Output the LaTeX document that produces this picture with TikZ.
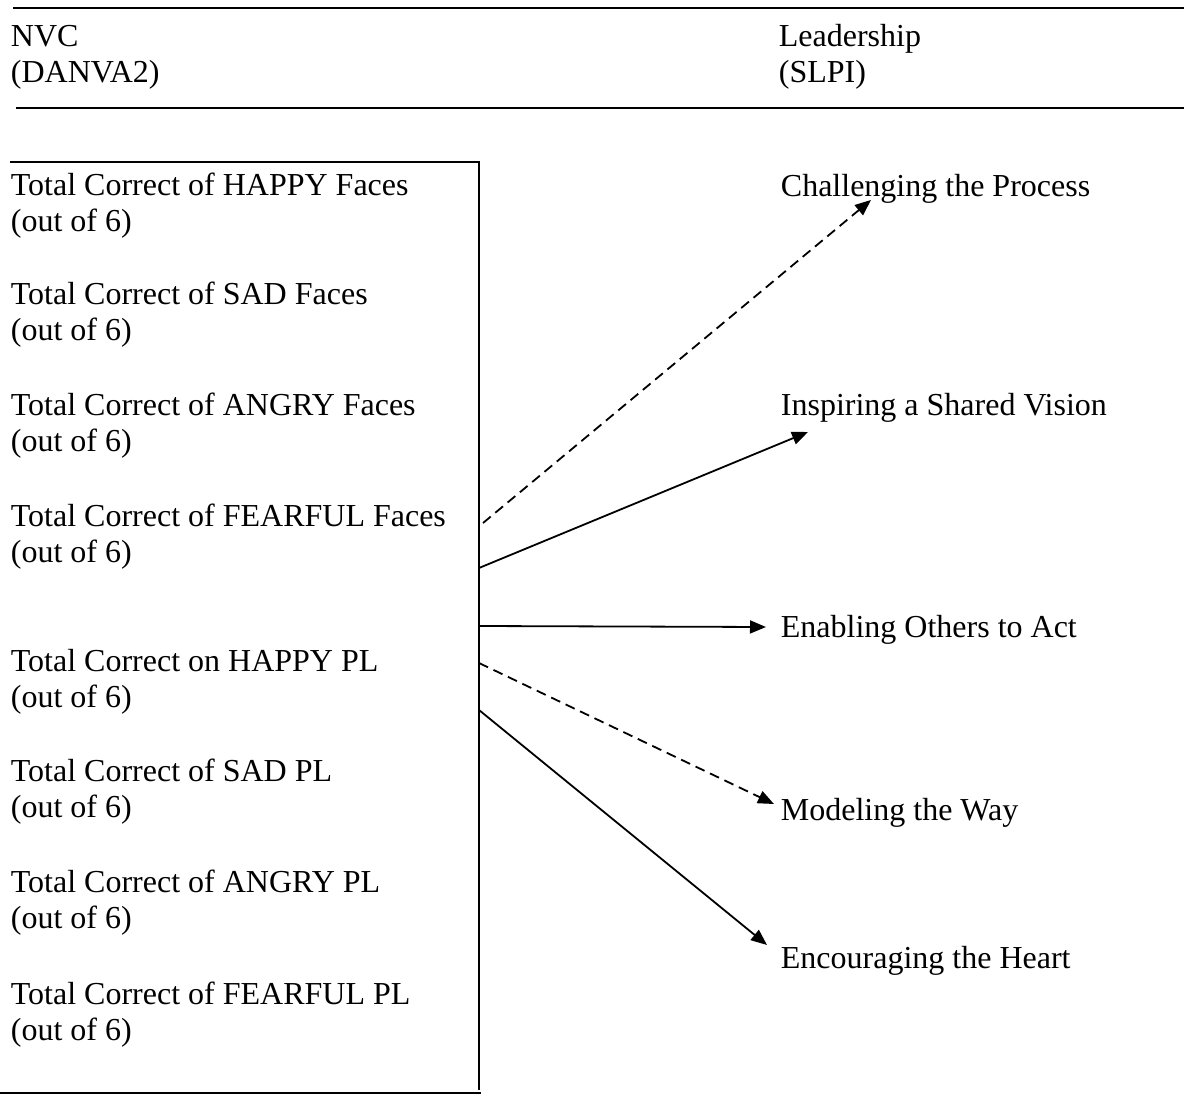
\documentclass[tikz,border=0pt]{standalone}
\usepackage{fontspec}
\setmainfont{Liberation Serif}
\usetikzlibrary{arrows.meta}

\begin{document}
\begin{tikzpicture}[x=1pt,y=-1pt,line width=1.8pt,
    lbl/.style={anchor=base west,inner sep=0pt,align=left,font=\fontsize{32}{36}\selectfont},
    conn/.style={-{Triangle[length=16pt,width=13pt]}},
    weak/.style={conn,dash pattern=on 10pt off 6pt}]
  \useasboundingbox (0,0) rectangle (1184,1099);
  % header (base = last line)
  \draw (13,8) -- (1184,8);
  \draw (16,108) -- (1184,108);
  \node[lbl] (nvc) at (10,83) {NVC\\(DANVA2)};
  \node[lbl] (lead) at (778,83) {Leadership\\(SLPI)};
  % box of DANVA2 scores
  \draw (10,162) -- (479,162) -- (479,1090);
  \draw (0,1093) -- (481,1093);
  \node[lbl] (hapF) at (10,232) {Total Correct of HAPPY Faces\\(out of 6)};
  \node[lbl] (sadF) at (10,341) {Total Correct of SAD Faces\\(out of 6)};
  \node[lbl] (angF) at (10,451) {Total Correct of ANGRY Faces\\(out of 6)};
  \node[lbl] (feaF) at (10,562) {Total Correct of FEARFUL Faces\\(out of 6)};
  \node[lbl] (hapP) at (10,707) {Total Correct on HAPPY PL\\(out of 6)};
  \node[lbl] (sadP) at (10,817) {Total Correct of SAD PL\\(out of 6)};
  \node[lbl] (angP) at (10,928) {Total Correct of ANGRY PL\\(out of 6)};
  \node[lbl] (feaP) at (10,1040) {Total Correct of FEARFUL PL\\(out of 6)};
  % SLPI scales
  \node[lbl] (chal) at (780,197) {Challenging the Process};
  \node[lbl] (insp) at (780,416) {Inspiring a Shared Vision};
  \node[lbl] (enab) at (780,637) {Enabling Others to Act};
  \node[lbl] (mode) at (780,820) {Modeling the Way};
  \node[lbl] (enco) at (780,968) {Encouraging the Heart};
  % arrow ends
  \coordinate (s1) at (483,523);
  \coordinate (s2) at (479,568);
  \coordinate (s3) at (479,626);
  \coordinate (s4) at (479,663);
  \coordinate (s5) at (479,710);
  \coordinate (t1) at (871,200);
  \coordinate (t2) at (808,432);
  \coordinate (t3) at (766,627);
  \coordinate (t4) at (774,804);
  \coordinate (t5) at (767,945);
  \draw[weak] (s1) -- (t1);
  \draw[conn] (s2) -- (t2);
  \draw[conn] (s3) -- (t3);
  \draw[weak] (s4) -- (t4);
  \draw[conn] (s5) -- (t5);
\end{tikzpicture}
\end{document}
